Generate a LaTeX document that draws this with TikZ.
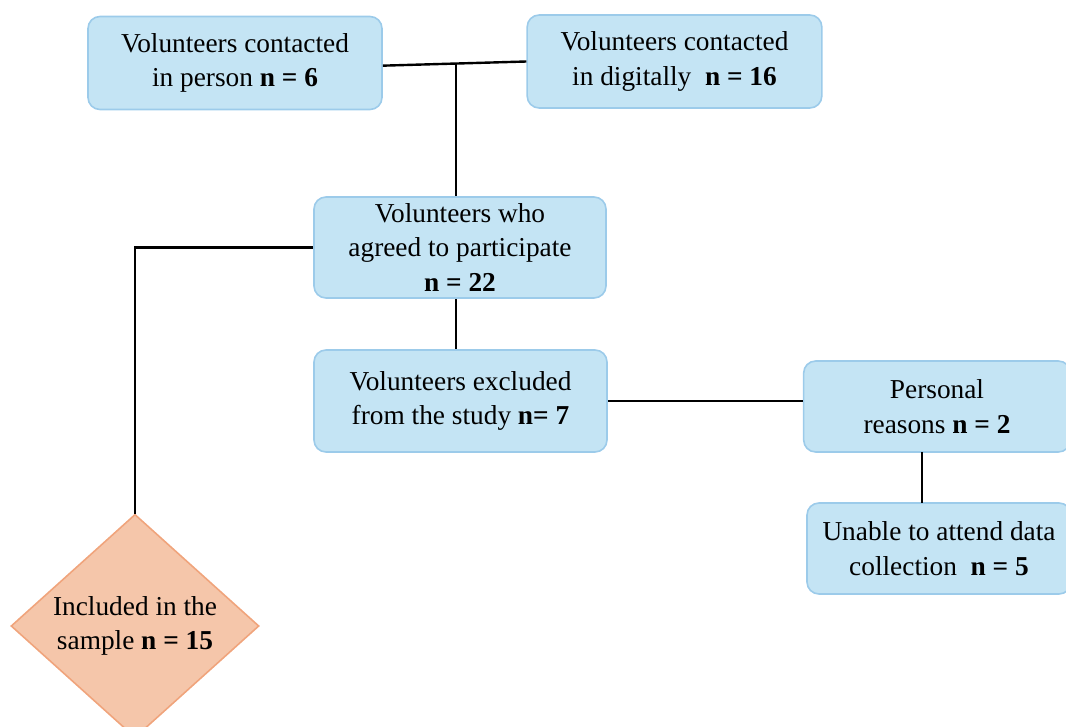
\documentclass[tikz,border=0pt]{standalone}
\usepackage{fontspec}
\setmainfont{Liberation Serif}
\usetikzlibrary{shapes.geometric,calc}
\definecolor{boxfill}{HTML}{C4E4F4}
\definecolor{boxline}{HTML}{9CCBEA}
\definecolor{dfill}{HTML}{F5C6AA}
\definecolor{dline}{HTML}{F0A47C}
\tikzset{
  bx/.style={draw=boxline, fill=boxfill, line width=1.2pt, rounded corners=9pt, align=center, inner sep=0pt,
    font=\fontsize{20.5}{26}\selectfont},
  dm/.style={diamond, draw=dline, fill=dfill, line width=1.2pt, align=center, inner sep=0pt,
    font=\fontsize{20.5}{26}\selectfont},
  ln/.style={line width=1.8pt, black}
}
\begin{document}
\begin{tikzpicture}[x=0.75pt,y=-0.75pt]
\useasboundingbox (0,0) rectangle (1066,727);
\node[bx, minimum width=220.5pt, minimum height=69.75pt] (A) at (235,63) {Volunteers contacted\\in person \textbf{n = 6}};
\node[bx, minimum width=221pt, minimum height=69.75pt] (B) at (674.5,61.5) {Volunteers contacted\\in digitally\ \ \textbf{n = 16}};
\node[bx, minimum width=219pt, minimum height=75.75pt] (C) at (460,247.5) {Volunteers who\\agreed to participate\\\textbf{n = 22}};
\node[bx, minimum width=219.75pt, minimum height=76.5pt] (D) at (460.5,401) {Volunteers excluded\\from the study \textbf{n= 7}};
\node[bx, minimum width=200pt, minimum height=68.25pt] (E) at (937,406.5) {Personal\\reasons \textbf{n = 2}};
\node[bx, minimum width=198pt, minimum height=68.25pt] (F) at (939,548.5) {Unable to attend data\\collection\ \ \textbf{n = 5}};
\node[dm, minimum width=186pt, minimum height=163pt] (G) at (135,626) {Included in the\\sample \textbf{n = 15}};
\draw[ln] ([yshift=-2pt]A.east) -- ([yshift=0pt]B.west);
\coordinate (J) at ($([yshift=-2pt]A.east)!0.51!(B.west)$);
\draw[ln] (J) -- (J |- C.north);
\draw[ln] (C.west) -- (C.west -| G.north) -- (G.north);
\draw[ln] ([xshift=-3pt]C.south) -- ([xshift=-3pt]C.south |- D.north);
\draw[ln] (D.east) -- (D.east -| E.west);
\draw[ln] (922,452) -- (922,503);
\end{tikzpicture}
\end{document}
